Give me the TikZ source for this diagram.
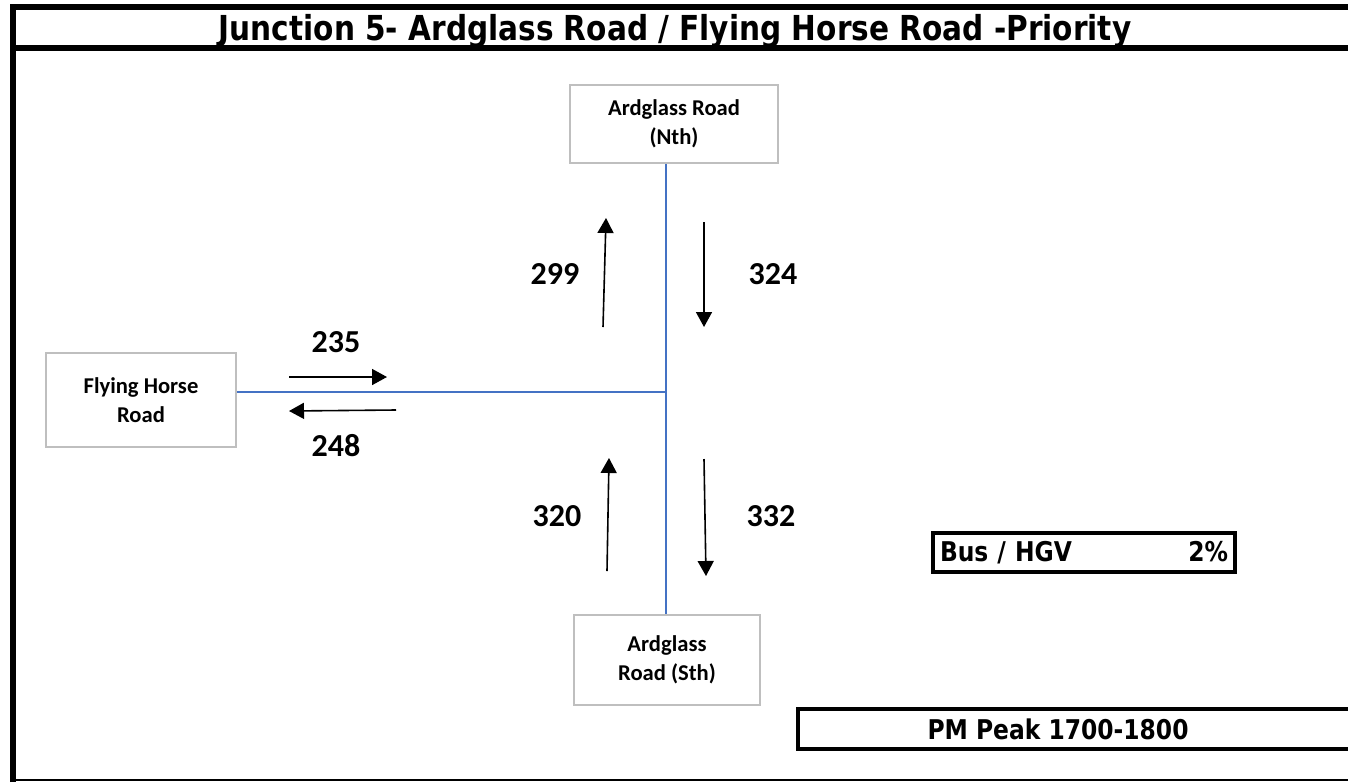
\documentclass[tikz,border=0pt]{standalone}
\usepackage{fontspec}
\setmainfont{Carlito}
\newfontfamily\tahoma[FakeStretch=0.86]{DejaVu Sans}
\usetikzlibrary{arrows.meta}
\definecolor{roadblue}{RGB}{68,114,196}
\definecolor{boxgray}{RGB}{191,191,191}
\tikzset{
    armbox/.style={draw=boxgray, line width=0.8pt, align=center,
        font=\fontsize{11.3}{14.5}\selectfont\bfseries},
    roadline/.style={draw=roadblue, line width=0.8pt},
    flow/.style={line width=0.8pt, -{Triangle[length=7.5pt, width=8pt]}},
    count/.style={font=\fontsize{16}{18}\selectfont\bfseries},
    frameline/.style={line width=3pt},
    infotext/.style={font=\tahoma\bfseries\fontsize{13.6}{15}\selectfont}
}

\begin{document}
\begin{tikzpicture}[x=0.5pt, y=-0.5pt]
\useasboundingbox (0,0) rectangle (1348,782);

% Rahmen
\draw[frameline] (13,782) -- (13,7) -- (1348,7);
\draw[frameline] (13,48) -- (1348,48);
\draw[line width=1pt] (13,780) -- (1348,780);

% Titel
\node[font=\tahoma\bfseries\fontsize{17.2}{19}\selectfont] (title) at (675,31)
    {Junction 5- Ardglass Road / Flying Horse Road -Priority};

% Arme der Kreuzung
\node[armbox, minimum width=104pt, minimum height=39pt] (north) at (674,124)
    {Ardglass Road\\(Nth)};
\node[armbox, minimum width=93pt, minimum height=45pt] (south) at (667,660)
    {Ardglass\\Road (Sth)};
\node[armbox, minimum width=95pt, minimum height=47pt] (west) at (141,400)
    {Flying Horse\\Road};

% Knotenpunkt
\coordinate (J) at (666,392);
\draw[roadline] (J |- north.south) -- (J |- south.north);
\draw[roadline] (west.east |- J) -- (J);

% Verkehrsstroeme
\coordinate (wa) at (289,377);
\coordinate (wb) at (387,377);
\coordinate (wc) at (396,410);
\coordinate (wd) at (289,411);
\draw[flow] (wa) -- (wb);
\draw[flow] (wc) -- (wd);
\node[count] (c235) at (336,342) {235};
\node[count] (c248) at (336,446) {248};

\coordinate (na) at (603,327);
\coordinate (nb) at (606,218);
\coordinate (nc) at (704,222);
\coordinate (nd) at (704,327);
\draw[flow] (na) -- (nb);
\draw[flow] (nc) -- (nd);
\node[count] (c299) at (555,274) {299};
\node[count] (c324) at (773,274) {324};

\coordinate (sa) at (607,571);
\coordinate (sb) at (609,458);
\coordinate (sc) at (704,459);
\coordinate (sd) at (706,576);
\draw[flow] (sa) -- (sb);
\draw[flow] (sc) -- (sd);
\node[count] (c320) at (557,516) {320};
\node[count] (c332) at (771,516) {332};

% Schwerverkehr
\node[draw, line width=2pt, minimum width=151pt, minimum height=19.5pt,
    text width=144pt, inner sep=1.5pt, infotext] (hgv) at (1084,552.5) {Bus / HGV\hfill 2\%};

% Zeitraum
\draw[line width=2pt] (798,709) rectangle (1370,749);
\node[infotext] (peak) at (1058,729) {PM Peak 1700-1800};
\end{tikzpicture}
\end{document}
